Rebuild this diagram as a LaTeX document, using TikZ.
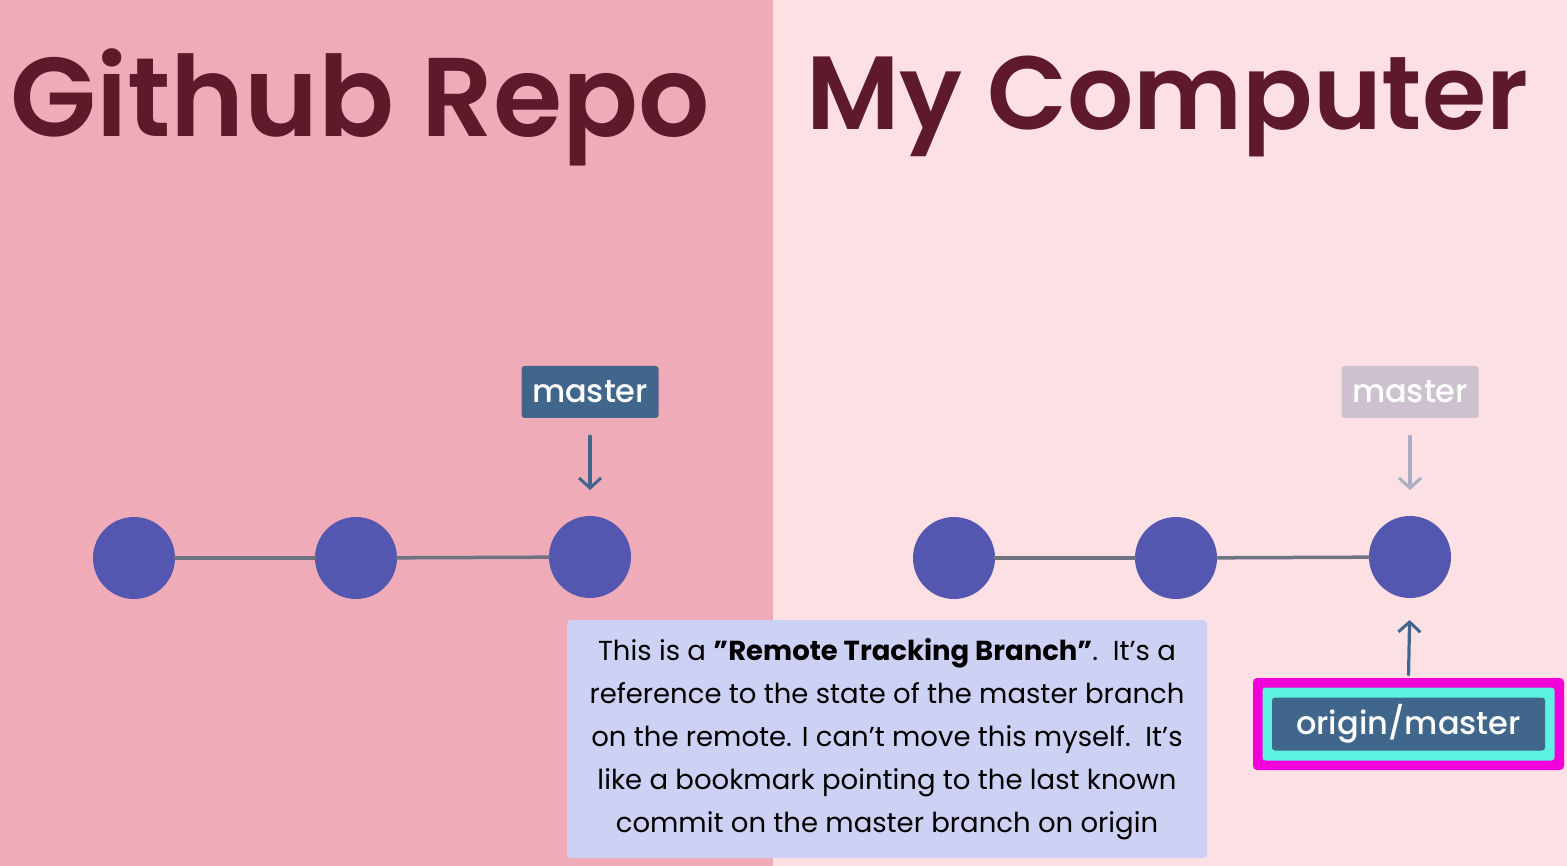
\documentclass[tikz,border=0pt]{standalone}
\usepackage{fontspec}
\setmainfont{Poppins}
\IfFontExistsTF{Poppins SemiBold}
  {\newfontfamily\headfont{Poppins SemiBold}}
  {\newfontfamily\headfont{Poppins}[UprightFont=*-Bold]}
\IfFontExistsTF{Poppins Medium}
  {\newfontfamily\tagfont{Poppins Medium}}
  {\newfontfamily\tagfont{Poppins}}
\usetikzlibrary{arrows.meta,positioning}
\definecolor{remotebg}{HTML}{EFACB8}
\definecolor{localbg}{HTML}{FDE0E4}
\definecolor{wine}{HTML}{5E1A2B}
\definecolor{commitblue}{HTML}{5457B0}
\definecolor{histgray}{HTML}{6E7384}
\definecolor{tagblue}{HTML}{41668C}
\definecolor{ghostfill}{HTML}{CEC1CF}
\definecolor{ghostline}{HTML}{A9AEC2}
\definecolor{notefill}{HTML}{CDD2F4}
\definecolor{hotpink}{HTML}{F200DA}
\definecolor{aqua}{HTML}{5DF2E0}
\newcommand{\dq}{\char"22\relax}
\newcommand{\sq}{\char"27\relax}
\tikzset{
    every picture/.style={line cap=round,line join=round},
    commit/.style={circle,fill=commitblue,minimum size=82pt,inner sep=0pt,outer sep=0pt},
    histline/.style={draw=histgray,line width=3.5pt},
    branchtag/.style={fill=tagblue,text=white,rounded corners=3pt,
      minimum width=137pt,minimum height=52pt,inner sep=0pt,
      font=\tagfont\fontsize{32}{36}\selectfont},
    ghosttag/.style={branchtag,fill=ghostfill},
    pointer/.style={-{Straight Barb[length=10pt,width=22pt,line width=3pt]},draw=tagblue,line width=3.2pt},
    ghostpointer/.style={pointer,draw=ghostline},
    heading/.style={anchor=base west,text=wine,inner sep=0pt,headfont},
    notebox/.style={fill=notefill,rounded corners=4pt,minimum width=640pt,
      minimum height=238pt,inner sep=0pt,align=center,
      font=\fontsize{27.5}{43}\selectfont}
}

\begin{document}
\begin{tikzpicture}[x=1pt,y=-1pt,headfont/.style={font=\headfont\fontsize{112}{120}\selectfont}]
  \useasboundingbox (0,0) rectangle (1567,866);
  \fill[remotebg] (0,0) rectangle (773,866);
  \fill[localbg] (773,0) rectangle (1567,866);

  \node[heading] (remotetitle) at (10,137) {Github Repo};
  \node[heading,font=\headfont\fontsize{104}{120}\selectfont] (localtitle) at (806,130) {My Computer};

  % github side
  \node[commit] (ra) at (134,558) {};
  \node[commit] (rb) at (356,558) {};
  \node[commit] (rc) at (590,557) {};
  \draw[histline] (ra) -- (rb); \draw[histline] (rb) -- (rc);
  \node[branchtag] (rmaster) at (590,392) {master};
  \draw[pointer,shorten <=18pt,shorten >=26pt] (rmaster.south) -- (rc.north);

  % my computer side
  \node[commit] (la) at (954,558) {};
  \node[commit] (lb) at (1176,558) {};
  \node[commit] (lc) at (1410,557) {};
  \draw[histline] (la) -- (lb); \draw[histline] (lb) -- (lc);
  \node[ghosttag] (lmaster) at (1410,392) {master};
  \draw[ghostpointer,shorten <=18pt,shorten >=26pt] (lmaster.south) -- (lc.north);

  \node[fill=hotpink,rounded corners=4pt,minimum width=311pt,minimum height=92pt] (originouter) at (1408.5,724) {};
  \node[fill=aqua,rounded corners=3pt,minimum width=292pt,minimum height=73pt] (originmid) at (1408.5,724) {};
  \node[branchtag,minimum width=273pt,minimum height=53pt] (origintag) at (1408.5,724) {origin/master};
  \draw[pointer,shorten <=3pt,shorten >=22pt] (originouter.north) -- (lc.south);

  \node[notebox] (note) at (887,739) {This is a \textbf{\dq Remote Tracking Branch\dq}.\ \ It\sq s a\\
    reference to the state of the master branch\\
    on the remote. I can\sq t move this myself.\ \ It\sq s\\
    like a bookmark pointing to the last known\\
    commit on the master branch on origin};
\end{tikzpicture}
\end{document}
